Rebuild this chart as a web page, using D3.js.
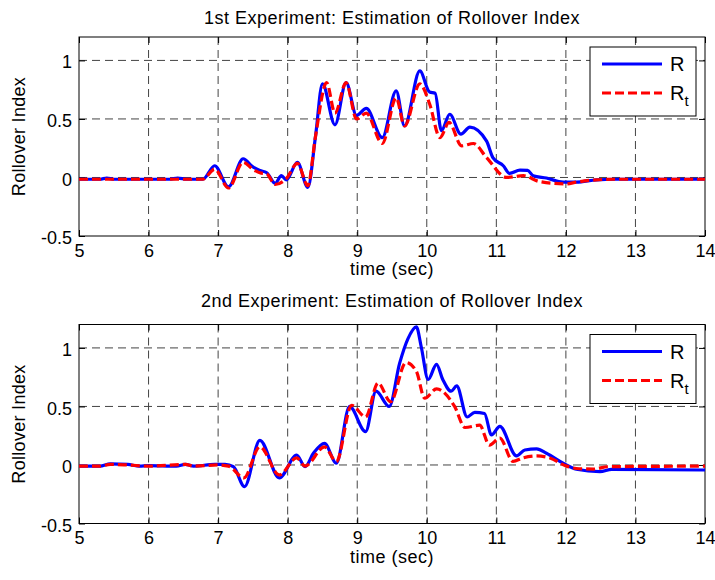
<!DOCTYPE html>
<html>
<head>
<meta charset="utf-8">
<script src="https://cdn.jsdelivr.net/npm/d3@7/dist/d3.min.js"></script>
<style>
  body { margin: 0; background: #fff; }
  text { font-family: "Liberation Sans", Arial, sans-serif; fill: #000; }
</style>
</head>
<body>
<div id="chart"></div>
<script>
// Data
const xTicks = [5, 6, 7, 8, 9, 10, 11, 12, 13, 14];
const yTicks = [-0.5, 0, 0.5, 1];
const titles = ["1st Experiment: Estimation of Rollover Index", "2nd Experiment: Estimation of Rollover Index"];

// 1st experiment, R (blue)
const exp1TimeR = [5, 5.3, 5.4, 5.5, 6.3, 6.42, 6.55, 6.78, 6.95, 7.15, 7.36, 7.5, 7.6, 7.7, 7.82, 7.91, 7.98, 8.14, 8.29, 8.4, 8.5, 8.68, 8.84, 8.99, 9.13, 9.36, 9.56, 9.68, 9.9, 10.04, 10.12, 10.21, 10.33, 10.49, 10.62, 10.86, 10.95, 11.1, 11.19, 11.34, 11.45, 11.53, 11.72, 11.96, 12.15, 12.44, 12.7, 14];
const exp1R = [-0.015, -0.015, -0.005, -0.015, -0.015, -0.005, -0.015, -0.015, 0.10, -0.08, 0.16, 0.09, 0.06, 0.04, -0.05, 0.015, -0.02, 0.13, -0.085, 0.35, 0.80, 0.45, 0.81, 0.53, 0.59, 0.34, 0.74, 0.44, 0.91, 0.73, 0.72, 0.40, 0.54, 0.37, 0.43, 0.31, 0.17, 0.10, 0.035, 0.063, 0.06, 0.015, -0.005, -0.04, -0.04, -0.02, -0.015, -0.015];
// 1st experiment, Rt (red dashed)
const exp1TimeRt = [5, 6.78, 6.95, 7.15, 7.36, 7.5, 7.6, 7.7, 7.82, 7.98, 8.14, 8.29, 8.4, 8.56, 8.68, 8.84, 8.99, 9.13, 9.36, 9.56, 9.68, 9.9, 10.04, 10.19, 10.32, 10.5, 10.67, 10.86, 11.15, 11.39, 11.62, 12.01, 12.15, 12.44, 12.7, 14];
const exp1Rt = [-0.015, -0.015, 0.07, -0.09, 0.13, 0.07, 0.04, 0.03, -0.06, -0.01, 0.12, -0.07, 0.35, 0.81, 0.55, 0.81, 0.50, 0.55, 0.29, 0.68, 0.44, 0.80, 0.63, 0.34, 0.47, 0.27, 0.29, 0.17, 0.0, 0.015, -0.035, -0.055, -0.04, -0.02, -0.015, -0.015];

// 2nd experiment, R
const exp2TimeR = [5, 5.3, 5.45, 5.7, 5.87, 6.0, 6.4, 6.53, 6.65, 6.95, 7.1, 7.22, 7.38, 7.6, 7.88, 8.13, 8.25, 8.37, 8.53, 8.7, 8.89, 9.12, 9.27, 9.46, 9.61, 9.73, 9.85, 9.92, 10.02, 10.14, 10.23, 10.35, 10.43, 10.58, 10.69, 10.83, 10.93, 11.05, 11.29, 11.41, 11.58, 11.72, 11.96, 12.15, 12.49, 12.66, 14];
const exp2R = [-0.01, -0.01, 0.01, 0.005, -0.01, -0.005, -0.01, 0.005, -0.01, 0.005, 0.005, -0.015, -0.185, 0.21, -0.11, 0.085, -0.015, 0.10, 0.185, 0.015, 0.50, 0.285, 0.63, 0.50, 0.87, 1.08, 1.18, 1.01, 0.73, 0.86, 0.73, 0.63, 0.675, 0.41, 0.45, 0.44, 0.256, 0.33, 0.077, 0.128, 0.137, 0.10, 0.015, -0.037, -0.057, -0.037, -0.043];
// 2nd experiment, Rt
const exp2TimeRt = [5, 5.3, 5.45, 5.7, 6.0, 6.53, 6.65, 7.0, 7.15, 7.37, 7.6, 7.88, 8.13, 8.25, 8.53, 8.7, 8.92, 9.12, 9.3, 9.48, 9.7, 9.85, 9.97, 10.14, 10.4, 10.55, 10.76, 10.9, 11.05, 11.24, 11.38, 11.58, 11.77, 12.01, 12.15, 12.4, 12.6, 14];
const exp2Rt = [-0.01, -0.01, 0.005, 0.0, -0.01, 0.005, -0.01, 0.0, -0.01, -0.11, 0.155, -0.085, 0.06, -0.01, 0.155, 0.03, 0.51, 0.41, 0.70, 0.54, 0.875, 0.80, 0.57, 0.65, 0.50, 0.32, 0.34, 0.17, 0.23, 0.03, 0.06, 0.077, 0.06, -0.01, -0.03, -0.035, -0.015, -0.01];

const W = 715, H = 580;
const svg = d3.select("#chart")
    .append("svg")
    .attr("width", W)
    .attr("height", H);

svg.append("rect").attr("width", W).attr("height", H).attr("fill", "#fff");

const panels = [
    { top: 37, title: titles[0], titleY: 24, r: [exp1TimeR, exp1R], rt: [exp1TimeRt, exp1Rt] },
    { top: 324.5, title: titles[1], titleY: 307, r: [exp2TimeR, exp2R], rt: [exp2TimeRt, exp2Rt] }
];

const left = 79, right = 705, ph = 199;

panels.forEach((p, i) => {
    const bottom = p.top + ph;
    const x = d3.scaleLinear().domain([5, 14]).range([left, right]);
    const y = d3.scaleLinear().domain([-0.5, 1.2]).range([bottom, p.top]);

    const g = svg.append("g");

    // clip
    g.append("clipPath").attr("id", "clip" + i)
        .append("rect")
        .attr("x", left).attr("y", p.top)
        .attr("width", right - left).attr("height", ph);

    // grid
    g.append("g")
        .selectAll("line")
        .data(xTicks.slice(1, -1))
        .join("line")
        .attr("x1", d => x(d)).attr("x2", d => x(d))
        .attr("y1", p.top).attr("y2", bottom)
        .attr("stroke", "#444").attr("stroke-width", 1)
        .attr("stroke-dasharray", "8,5");
    g.append("g")
        .selectAll("line")
        .data(yTicks.slice(1))
        .join("line")
        .attr("x1", left).attr("x2", right)
        .attr("y1", d => y(d)).attr("y2", d => y(d))
        .attr("stroke", "#444").attr("stroke-width", 1)
        .attr("stroke-dasharray", "8,5");

    // axes
    const xAxis = d3.axisBottom(x).tickValues(xTicks).tickSize(-6).tickPadding(8).tickFormat(d => String(d));
    const yAxis = d3.axisLeft(y).tickValues(yTicks).tickSize(-6).tickPadding(7).tickFormat(d => String(d));

    const gx = g.append("g").attr("transform", `translate(0,${bottom})`).call(xAxis);
    const gy = g.append("g").attr("transform", `translate(${left},0)`).call(yAxis);
    g.append("g").attr("transform", `translate(0,${p.top})`)
        .call(d3.axisTop(x).tickValues(xTicks).tickSize(-6).tickFormat(""));
    g.append("g").attr("transform", `translate(${right},0)`)
        .call(d3.axisRight(y).tickValues(yTicks).tickSize(-6).tickFormat(""));

    g.selectAll(".domain").remove();
    g.selectAll(".tick line").attr("stroke", "#000");
    g.selectAll(".tick text").attr("font-size", 18).attr("font-family", "Liberation Sans, Arial, sans-serif");
    gy.selectAll(".tick text").attr("dy", "0.42em");

    // frame
    g.append("rect")
        .attr("x", left).attr("y", p.top)
        .attr("width", right - left).attr("height", ph)
        .attr("fill", "none").attr("stroke", "#000").attr("stroke-width", 1);

    // lines
    const line = d3.line()
        .x(d => x(d[0]))
        .y(d => y(d[1]))
        .curve(d3.curveMonotoneX);

    const rData = p.r[0].map((t, k) => [t, p.r[1][k]]);
    const rtData = p.rt[0].map((t, k) => [t, p.rt[1][k]]);

    const lines = g.append("g").attr("clip-path", `url(#clip${i})`);
    lines.append("path")
        .datum(rData)
        .attr("fill", "none")
        .attr("stroke", "#0000ff")
        .attr("stroke-width", 3.2)
        .attr("stroke-linejoin", "round")
        .attr("d", line);
    lines.append("path")
        .datum(rtData)
        .attr("fill", "none")
        .attr("stroke", "#ff0000")
        .attr("stroke-width", 3.2)
        .attr("stroke-dasharray", "9,4")
        .attr("d", line);

    // labels
    g.append("text")
        .attr("x", (left + right) / 2).attr("y", p.titleY)
        .attr("text-anchor", "middle").attr("font-size", 18)
        .attr("letter-spacing", 0.5)
        .text(p.title);
    g.append("text")
        .attr("x", (left + right) / 2).attr("y", bottom + 39)
        .attr("text-anchor", "middle").attr("font-size", 18)
        .attr("letter-spacing", 0.5)
        .text("time (sec)");
    g.append("text")
        .attr("transform", `translate(25,${(p.top + bottom) / 2}) rotate(-90)`)
        .attr("text-anchor", "middle").attr("font-size", 18)
        .attr("letter-spacing", 0.3)
        .text("Rollover Index");

    // legend
    const lx = 590, ly = p.top + 10;
    const lg = g.append("g");
    lg.append("rect")
        .attr("x", lx).attr("y", ly).attr("width", 106).attr("height", 69)
        .attr("fill", "#fff").attr("stroke", "#000").attr("stroke-width", 1);
    lg.append("line")
        .attr("x1", lx + 12).attr("x2", lx + 72).attr("y1", ly + 17).attr("y2", ly + 17)
        .attr("stroke", "#0000ff").attr("stroke-width", 3.2);
    lg.append("line")
        .attr("x1", lx + 12).attr("x2", lx + 72).attr("y1", ly + 46).attr("y2", ly + 46)
        .attr("stroke", "#ff0000").attr("stroke-width", 3.2).attr("stroke-dasharray", "9,4");
    lg.append("text")
        .attr("x", lx + 80).attr("y", ly + 24).attr("font-size", 20).text("R");
    const rt = lg.append("text")
        .attr("x", lx + 80).attr("y", ly + 53).attr("font-size", 20);
    rt.append("tspan").text("R");
    rt.append("tspan").attr("font-size", 15).attr("dy", 6).text("t");
});
</script>
</body>
</html>
